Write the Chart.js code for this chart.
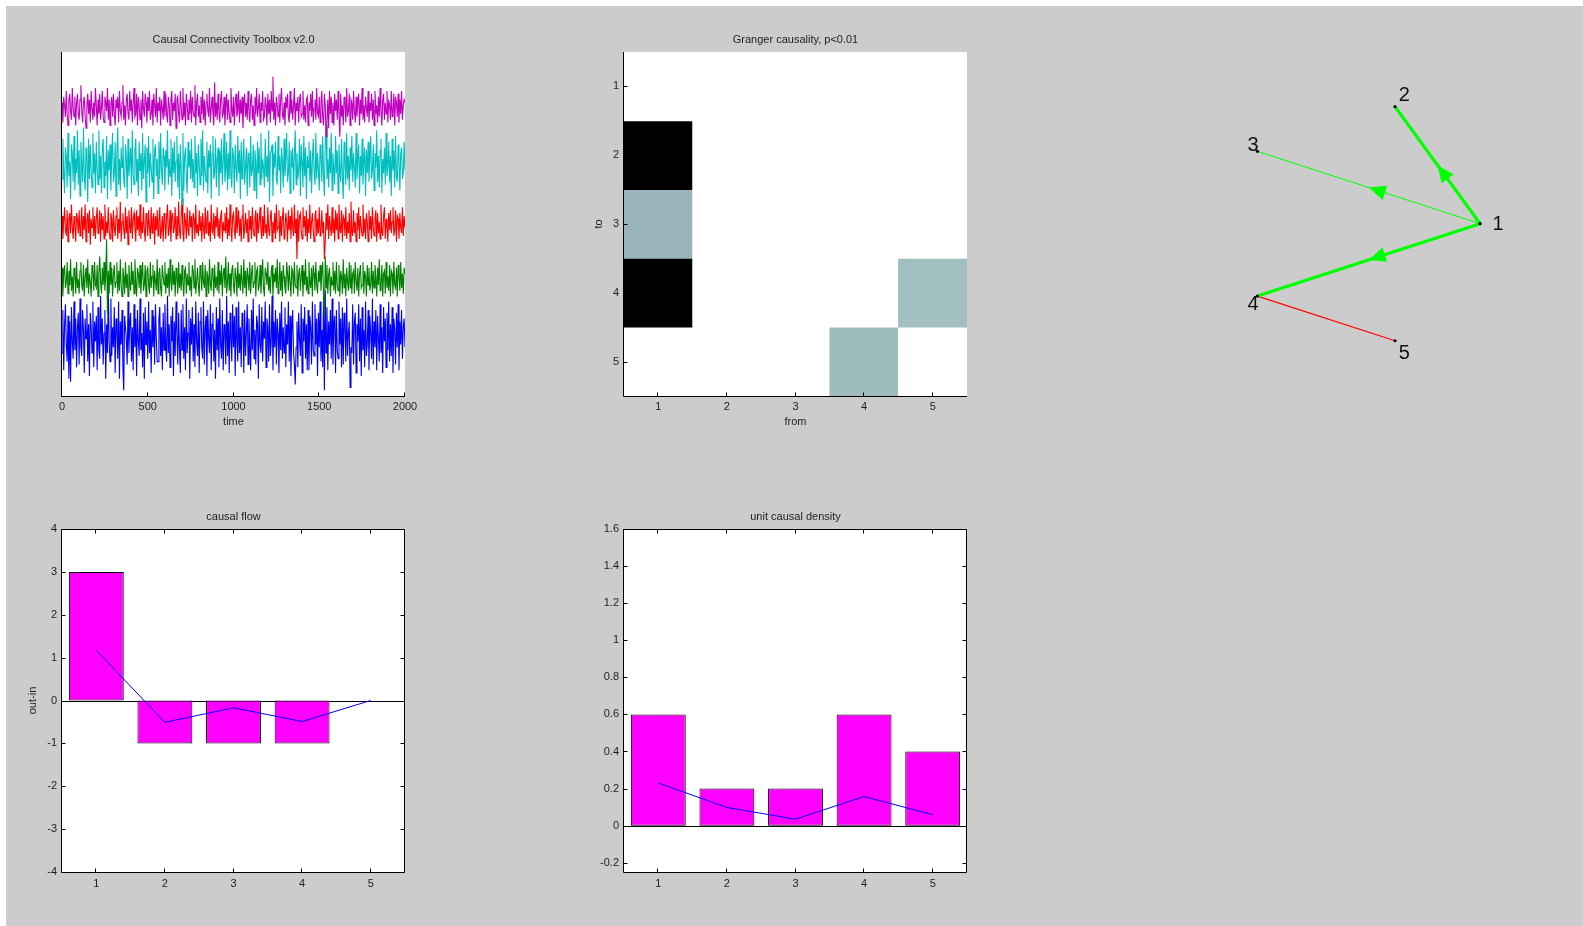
<!DOCTYPE html>
<html>
<head>
<meta charset="utf-8">
<title>Causal Connectivity Toolbox v2.0</title>
<script src="https://cdn.jsdelivr.net/npm/chart.js@4.4.1/dist/chart.umd.min.js"></script>
<style>
  html, body { margin: 0; padding: 0; background: #ffffff; width: 1583px; height: 926px; overflow: hidden; }
  #figure { position: absolute; left: 6px; top: 6px; width: 1577px; height: 920px; background: #cccccc; }
  canvas { position: absolute; }
</style>
</head>
<body>
<div id="figure"></div>
<canvas id="cTraces" width="440" height="430" style="left:0px;top:20px"></canvas>
<canvas id="cGranger" width="430" height="430" style="left:560px;top:20px"></canvas>
<canvas id="cNetwork" width="360" height="350" style="left:1180px;top:50px"></canvas>
<canvas id="cFlow" width="440" height="420" style="left:0px;top:490px"></canvas>
<canvas id="cDensity" width="430" height="420" style="left:560px;top:490px"></canvas>
<script>
// ---------------- data ----------------
// time series: one sample every 5 time steps, deviations around each trace's offset
const sampleStep = 5;
const timeTicks = [0, 500, 1000, 1500, 2000];
const traceOffsets = [21, 40.7, 59.8, 80.7, 100.4];   // blue, green, red, cyan, magenta
const traceBlue = [
  -6,9,-12,4,11,-3,-9,7,-15,5,-16,10,-2,-8,12,-5,6,-11,3,8,
  -10,13,-4,-7,9,2,-13,6,-1,11,-9,4,-14,8,3,-6,12,-11,5,-2,
  7,-12,10,-5,-8,14,-3,6,-10,1,9,-15,4,-6,16,-2,-9,13,-7,3,
  -4,10,-13,6,2,-8,12,-15,5,-3,9,-11,-19,7,3,-1,-10,12,-6,4,
  8,-9,3,-12,11,-4,6,-14,9,-2,-7,13,-5,1,-11,8,-15,10,-3,5,
  -8,12,-6,2,-13,9,-4,7,-10,11,-1,-9,-9,6,10,-7,3,-12,8,-5,
  11,-3,-9,14,-6,4,-11,7,-2,10,-14,5,-7,12,1,-10,8,-4,-13,9,
  -5,11,-8,3,-12,13,-6,1,9,-15,6,-3,10,-9,4,-11,12,-2,-7,8,
  -13,5,10,-4,-8,12,-10,3,7,-14,9,-1,-6,11,-12,4,8,-9,2,-15,
  10,-5,6,-11,13,-3,-8,9,-12,4,2,-10,14,-7,5,-13,8,-1,-9,11,
  -4,7,-14,10,-2,-9,12,-6,3,-11,8,5,-13,9,-7,1,11,-10,6,-3,
  -12,9,-5,13,-8,2,-10,7,4,-15,11,-3,-6,10,-9,5,-1,12,-11,6,
  3,-9,11,-7,-2,14,-12,5,-4,9,-10,6,1,-13,8,-5,12,-8,3,-6,
  10,-11,4,-3,12,-9,7,-14,2,9,-6,-10,-17,-4,5,-11,8,-1,-7,11,
  -13,6,-2,10,-8,4,-12,9,-12,7,3,-10,12,-5,-7,11,-3,6,-14,8,
  -4,12,-9,2,-11,14,-19,16,-6,10,-12,5,-3,9,-8,13,-10,4,7,-13,
  9,-5,-8,12,-3,6,-11,10,-10,8,3,-9,13,-7,1,5,-18,-4,-6,11,
  -10,5,8,-13,4,-2,11,-9,6,-14,10,-5,2,-11,12,-7,-3,9,-12,7,
  1,-8,13,-10,5,-4,9,-12,7,-1,-9,11,-6,3,-13,10,-2,6,-11,8,
  -5,12,-9,4,-7,10,-13,6,2,-10,8,-4,11,-12,5,-3,9,-8,3,6,
  -4];
const traceGreen = [
  4,-6,2,5,-3,-1,6,-5,3,-2,7,-4,1,-6,4,2,-5,6,-3,0,
  -5,3,6,-2,-4,5,-6,1,4,-3,7,-5,2,-1,-6,5,3,-4,6,-2,
  -3,5,-6,2,8,-1,-5,4,-2,6,-4,1,14,-12,3,-5,6,-2,4,-6,
  2,5,-3,-1,6,-5,3,-4,7,-2,-6,4,1,-5,6,-3,2,-6,5,-1,
  -4,6,-2,3,-5,7,-1,-6,4,2,-3,5,-5,1,6,-4,-2,5,-6,3,
  4,-2,-5,6,-3,1,5,-6,3,-1,-4,7,-5,2,4,-3,-6,5,1,-2,
  6,-5,2,-3,4,-6,7,-1,-4,5,-2,3,-6,4,1,-5,6,-3,2,-4,
  5,-1,-6,3,4,-5,2,-2,6,-4,1,-6,5,3,-3,7,-5,-1,4,-2,
  -6,5,2,-4,6,-1,-3,5,-6,3,1,-5,7,-2,-4,4,2,-6,5,-3,
  1,-4,6,-5,3,-2,5,-6,2,4,-3,8,-5,-1,6,-4,2,-6,3,5,
  -2,-5,4,1,-6,6,-3,2,-4,5,-1,-5,7,-3,3,-6,4,1,-4,6,
  -5,2,5,-3,-1,6,-6,3,4,-4,-2,5,-5,1,7,-3,-6,4,2,-2,
  6,-4,1,-5,3,5,-6,2,-1,4,-3,7,-5,-2,6,-4,3,-6,5,1,
  -3,-5,6,2,-4,5,-1,-6,4,3,-5,6,-2,-3,5,-6,2,4,-4,1,
  5,-6,3,-2,7,-4,1,-5,6,-1,-3,4,-6,5,2,-4,6,-2,-5,3,
  -1,5,-4,3,6,-6,-13,8,-3,5,-5,2,4,-6,1,-2,6,-4,3,-5,
  6,-2,-4,5,-6,3,1,-5,7,-3,2,-6,4,-1,-4,6,-3,5,-5,2,
  3,-5,6,-1,-4,4,-6,2,5,-3,-2,6,-5,3,1,-6,5,-2,4,-4,
  -2,6,-5,3,-3,5,1,-6,4,-2,7,-4,-1,5,-6,2,3,-5,6,-3,
  1,-4,5,-6,3,2,-5,6,-2,-3,4,-6,5,1,-4,6,-3,2,-5,4,
  2];
const traceRed = [
  3,-5,1,6,-2,-4,5,-6,2,4,-3,7,-1,-5,3,0,-6,4,2,-3,
  5,-4,-1,6,-5,3,-2,7,-6,1,4,-3,5,-7,2,-1,6,-4,3,-5,
  2,6,-3,-1,5,-6,4,-2,3,-5,7,-4,1,-3,6,-2,-5,4,2,-6,
  5,-1,-4,3,6,-5,2,-3,8,-6,1,4,-2,-5,6,-3,3,-7,5,0,
  -3,6,-5,2,4,-1,-6,5,-2,3,-4,7,-5,1,-3,6,-2,-6,4,2,
  -4,5,-1,-5,6,-3,2,4,-7,3,-2,5,-4,1,6,-5,-2,3,-6,4,
  1,-5,3,7,-4,-2,5,-6,2,4,-3,-1,6,-5,3,-4,8,-2,-5,3,
  9,-3,-6,4,1,-5,6,-2,-4,5,-1,3,-6,4,2,-5,7,-3,0,-4,
  5,-2,3,-6,4,-1,-5,6,-3,2,5,-4,1,-6,7,-2,-3,4,-5,3,
  -1,6,-4,2,-5,3,5,-6,1,-2,4,-3,6,-5,2,-4,7,-1,-6,3,
  4,-2,-5,6,-3,1,5,-4,2,-6,3,7,-5,-1,4,-3,2,-6,5,-2,
  3,-5,6,-1,-4,2,5,-6,4,-3,1,6,-2,-5,3,-4,7,-3,0,-5,
  6,-2,-4,3,5,-6,1,-3,4,-5,7,-2,-1,5,-6,3,-4,2,6,-5,
  -3,4,1,-6,5,-2,3,-5,6,-1,-4,7,-3,2,-12,5,-6,3,4,-2,
  -5,6,-1,3,-4,5,-6,2,-3,7,-5,1,4,-2,-6,3,5,-4,2,-3,
  6,-4,-2,5,-3,1,-12,-6,4,-2,7,-5,3,-1,-4,6,-3,2,-6,5,
  -2,4,-5,7,-1,-3,5,-6,3,2,-4,6,-5,1,-3,4,-6,8,-2,-4,
  5,-3,1,-6,4,-2,6,-5,3,-1,-4,7,-3,2,-5,4,1,-6,5,-2,
  3,-5,6,-1,-4,2,5,-6,4,-3,1,-5,7,-2,-4,3,6,-5,2,-1,
  -6,4,-2,5,-3,1,6,-4,-2,5,-6,3,2,-5,4,-1,-3,6,-4,3,
  -1];
const traceCyan = [
  -5,9,-2,-10,6,3,-8,11,-4,1,-12,7,4,-6,10,-9,2,-3,12,-7,
  5,-11,8,0,-6,13,-4,-9,6,2,-13,9,-5,7,-2,-8,11,-3,4,-10,
  8,-1,-7,12,-5,3,-10,6,9,-8,1,-4,10,-12,5,-2,7,-9,3,11,
  -6,-3,8,-11,4,13,-7,2,-9,6,-1,10,-5,-8,7,3,-12,9,-4,1,
  6,-10,12,-3,-7,5,9,-6,2,-11,8,-2,4,-9,11,-5,1,7,-13,6,
  -3,10,-8,4,-1,-6,9,-12,5,7,-4,2,-10,8,-5,11,-2,-7,6,3,
  -9,5,-1,12,-7,2,-4,9,-11,6,-3,8,-6,1,10,-8,4,-12,7,-2,
  -14,11,-9,3,6,-4,-10,8,-1,5,-5,9,-6,2,-8,10,-3,4,-11,7,
  1,-7,9,-4,12,-9,3,-2,-6,8,-10,5,-1,7,-12,4,10,-5,-3,9,
  -8,2,6,-11,5,-3,9,-7,1,11,-6,-2,8,-9,4,-5,12,-4,-8,6,
  3,-10,7,-1,-6,10,-3,5,-12,8,-5,2,9,-7,-1,6,-11,4,3,-8,
  10,-4,-2,7,-9,5,1,-12,8,-3,6,-7,11,-5,2,-1,-8,9,-4,3,
  -6,12,-13,4,5,7,-11,4,-1,8,-5,-7,10,-2,3,-10,6,1,-8,9,
  -4,2,11,-6,-3,8,-10,5,-1,6,-9,3,12,-7,4,-5,-2,9,-11,7,
  1,-8,10,-4,6,-12,3,-1,8,-6,5,-10,2,9,-3,-7,11,-5,4,-2,
  -9,7,3,-6,10,-4,-11,8,14,-5,2,-8,6,-3,11,-9,4,-1,-7,10,
  -3,5,-10,7,-2,-6,9,-4,-12,8,1,-7,11,-5,3,-9,6,-2,10,-6,
  4,-1,-8,11,-5,2,7,-10,3,-4,9,-7,1,6,-11,5,-3,8,-6,2,
  10,-5,-2,7,-9,4,-1,12,-6,3,-8,5,9,-10,2,-3,6,-7,11,-4,
  -1,8,-6,3,-11,9,-2,5,-8,10,-4,-6,7,1,-9,4,6,-5,-3,8,
  -2];
const traceMagenta = [
  2,-5,4,1,-3,6,-2,-6,3,5,-1,-4,7,0,-3,4,-6,2,5,-2,
  -4,3,8,-1,-5,2,4,-3,-7,1,5,-2,3,-5,6,0,-4,2,-3,7,
  1,-6,3,-2,5,-4,0,6,-3,-5,4,2,-1,7,-4,3,-6,1,4,-3,
  5,-2,-6,3,0,4,-5,6,-1,-3,2,8,-4,1,-6,3,5,-2,-4,6,
  -1,3,-5,2,7,-3,-2,5,-6,4,1,-4,3,-7,6,0,-3,5,2,-5,
  4,-1,6,-4,-2,3,-6,5,1,-3,7,-5,2,-1,4,-6,3,0,-4,6,
  -3,5,-2,-5,4,1,-6,3,6,-4,2,-1,5,-7,3,4,-2,-5,6,0,
  -4,7,-3,2,-6,5,1,-4,3,-2,6,-5,4,-1,-3,8,-6,2,5,-3,
  1,-5,4,-2,6,-4,3,-6,2,5,-1,-3,7,-5,0,4,-2,-6,9,-3,
  2,-4,5,-1,-5,3,6,-3,-2,4,-6,1,5,-4,3,-2,-5,7,0,-3,
  4,-6,2,5,-3,-1,6,-5,3,-2,4,-7,1,5,-3,2,-4,6,-1,-5,
  3,5,-4,1,-6,4,-2,7,-3,0,5,-5,2,-1,6,-4,-3,4,1,-6,
  5,-2,3,-5,6,-1,11,-4,2,-6,4,1,-3,5,-5,3,7,-2,-4,2,
  -6,4,0,5,-3,-5,6,-2,3,-4,1,7,-6,2,-1,4,-5,3,5,-3,
  -2,6,-4,1,-5,3,4,-6,2,-1,5,-3,6,-5,0,3,-4,7,-2,-3,
  4,-5,2,6,-3,-6,5,1,-10,-4,3,-7,6,-2,4,-5,2,-6,5,-1,
  3,-4,6,-2,-10,5,-3,1,-6,4,2,-5,7,-3,-1,5,-6,3,2,-4,
  6,-1,-5,4,-3,2,5,-6,3,-2,7,-4,1,-5,4,0,-3,6,-5,2,
  -1,5,-4,3,-6,6,-2,1,-5,4,-3,7,-1,-6,3,5,-4,2,-2,6,
  -5,3,1,-4,6,-3,-1,5,-6,4,2,-3,5,-5,3,-2,6,-4,1,3,
  2];

// Granger causality matrix: rows = "to" unit, columns = "from" unit (0 = none, 1 = strongest)
const units = ['1', '2', '3', '4', '5'];
const unitTicks = [1, 2, 3, 4, 5];
const gcTo1 = [0, 0, 0, 0, 0];
const gcTo2 = [1, 0, 0, 0, 0];
const gcTo3 = [0.31, 0, 0, 0, 0];
const gcTo4 = [1, 0, 0, 0, 0.28];
const gcTo5 = [0, 0, 0, 0.29, 0];

// network graph: nodes on the unit circle, directed significant interactions
const nodeX = [1, 0.309, -0.809, -0.809, 0.309];
const nodeY = [0, 0.951, 0.588, -0.588, -0.951];
const edgeFrom = [1, 1, 1, 4];
const edgeTo   = [2, 3, 4, 5];
const edgeKind = ['strong', 'weak', 'strong', 'mutual'];

// causal flow (out - in) and weighted flow
const flowTicks = [-4, -3, -2, -1, 0, 1, 2, 3, 4];
const flowBars = [3, -1, -1, -1, 0];
const flowWeighted = [1.17, -0.51, -0.17, -0.49, 0];

// unit causal density
const densityTicks = [-0.2, 0, 0.2, 0.4, 0.6, 0.8, 1, 1.2, 1.4, 1.6];
const densityBars = [0.6, 0.2, 0.2, 0.6, 0.4];
const densityWeighted = [0.23, 0.098, 0.035, 0.157, 0.059];

// ---------------- common settings ----------------
Chart.defaults.font.family = "'Liberation Sans', Arial, sans-serif";
Chart.defaults.font.size = 11;
Chart.defaults.color = '#1e1e1e';
Chart.defaults.animation = false;
Chart.defaults.responsive = false;
Chart.defaults.maintainAspectRatio = false;
Chart.defaults.devicePixelRatio = 1;
Chart.defaults.plugins.legend.display = false;
Chart.defaults.plugins.tooltip.enabled = false;

const TEXT = '#1e1e1e';
const fixW = w => s => { s.width = w; };
const fixH = h => s => { s.height = h; };
const setTicks = arr => s => { s.ticks = arr.map(v => ({ value: v })); };
const numLabel = v => String(Math.round(v * 100) / 100);
const noGrid = { display: false, drawTicks: false };

function panelTitle(text, padBottom) {
  return { display: true, text, fullSize: false, color: TEXT,
           font: { size: 11, weight: 'normal', lineHeight: 1.2 },
           padding: { top: 0, bottom: padBottom } };
}
function axisTitle(text) {
  return { display: true, text, color: TEXT, padding: 0,
           font: { size: 11, weight: 'normal', lineHeight: 1.2 } };
}

// white axes background
const whiteArea = {
  id: 'whiteArea',
  beforeDraw(chart) {
    const { ctx, chartArea: a } = chart;
    ctx.save();
    ctx.fillStyle = '#ffffff';
    ctx.fillRect(a.left, a.top, a.right - a.left, a.bottom - a.top);
    ctx.restore();
  }
};

// axis lines with inward tick marks
const axesFrame = {
  id: 'axesFrame',
  afterDatasetsDraw(chart, args, o) {
    const { ctx, chartArea: a, scales } = chart;
    const L = a.left - 0.5, R = a.right - 0.5, T = a.top + 0.5, B = a.bottom + 0.5;
    const len = 4;
    ctx.save();
    ctx.strokeStyle = '#000000';
    ctx.lineWidth = 1;
    ctx.beginPath();
    if (o.box) {
      ctx.rect(L, T, R - L, B - T);
    } else {
      ctx.moveTo(L, T - 0.5); ctx.lineTo(L, B); ctx.lineTo(R + 0.5, B);
    }
    if (o.xTicks) {
      const s = scales.x;
      s.ticks.forEach((t, i) => {
        const x = Math.round(s.getPixelForTick(i)) - 0.5;
        ctx.moveTo(x, B); ctx.lineTo(x, B - len);
        if (o.box) { ctx.moveTo(x, T); ctx.lineTo(x, T + len); }
      });
    }
    if (o.yTicks) {
      const s = scales.y;
      s.ticks.forEach((t, i) => {
        const y = Math.round(s.getPixelForTick(i)) + 0.5;
        ctx.moveTo(L, y); ctx.lineTo(L + len, y);
        if (o.box) { ctx.moveTo(R, y); ctx.lineTo(R - len, y); }
      });
    }
    ctx.stroke();
    ctx.restore();
  }
};

// horizontal baseline at zero for bar plots
const zeroLine = {
  id: 'zeroLine',
  beforeDatasetsDraw(chart) {
    const { ctx, chartArea: a, scales } = chart;
    const y = Math.round(scales.y.getPixelForValue(0)) + 0.5;
    ctx.save();
    ctx.strokeStyle = '#000000';
    ctx.lineWidth = 1;
    ctx.beginPath(); ctx.moveTo(a.left, y); ctx.lineTo(a.right, y); ctx.stroke();
    ctx.restore();
  }
};

// ---------------- time series ----------------
const traceSeries = [traceBlue, traceGreen, traceRed, traceCyan, traceMagenta];
const traceColors = ['#0000ff', '#008000', '#ff0000', '#00bfbf', '#bf00bf'];
new Chart(document.getElementById('cTraces'), {
  type: 'line',
  data: {
    datasets: traceSeries.map((vals, k) => ({
      data: vals.map((v, i) => ({ x: i * sampleStep, y: traceOffsets[k] + v })),
      borderColor: traceColors[k],
      borderWidth: 1.1,
      pointRadius: 0,
      tension: 0,
      order: traceSeries.length - 1 - k
    }))
  },
  options: {
    layout: { padding: { left: 62, right: 35, top: 13.2, bottom: 21.1 } },
    scales: {
      x: { type: 'linear', min: 0, max: 2000,
           afterBuildTicks: setTicks(timeTicks), afterFit: fixH(32.9),
           grid: noGrid, border: { display: false },
           ticks: { padding: 4, color: TEXT, callback: v => String(v), maxRotation: 0 },
           title: axisTitle('time') },
      y: { display: false, min: 0, max: 120 }
    },
    plugins: { title: panelTitle('Causal Connectivity Toolbox v2.0', 5.6),
               axesFrame: { box: false, xTicks: true, yTicks: false } }
  },
  plugins: [whiteArea, axesFrame]
});

// ---------------- Granger causality matrix ----------------
function bone(x) {
  const c = v => Math.min(1, Math.max(0, v));
  const hr = c(x / 0.375), hg = c((x - 0.375) / 0.375), hb = c((x - 0.75) / 0.25);
  const r = (7 * x + hb) / 8, g = (7 * x + hg) / 8, b = (7 * x + hr) / 8;
  return `rgb(${Math.round(r * 255)},${Math.round(g * 255)},${Math.round(b * 255)})`;
}
const gcRows = [gcTo1, gcTo2, gcTo3, gcTo4, gcTo5];
new Chart(document.getElementById('cGranger'), {
  type: 'bar',
  data: {
    labels: units,
    datasets: gcRows.map((row, r) => ({
      data: row.map(() => [unitTicks[r] - 0.5, unitTicks[r] + 0.5]),
      backgroundColor: row.map(v => bone(1 - v)),
      borderWidth: 0,
      grouped: false,
      barPercentage: 1,
      categoryPercentage: 1
    }))
  },
  options: {
    layout: { padding: { left: 32.7, right: 23, top: 13.2, bottom: 21.1 } },
    scales: {
      x: { afterFit: fixH(32.9), grid: noGrid, border: { display: false },
           ticks: { padding: 4, color: TEXT, autoSkip: false, maxRotation: 0 },
           title: axisTitle('from') },
      y: { type: 'linear', min: 0.5, max: 5.5, reverse: true,
           afterBuildTicks: setTicks(unitTicks), afterFit: fixW(31.3),
           grid: noGrid, border: { display: false },
           ticks: { padding: 5, color: TEXT, callback: numLabel },
           title: axisTitle('to') }
    },
    plugins: { title: panelTitle('Granger causality, p<0.01', 5.6),
               axesFrame: { box: false, xTicks: true, yTicks: true } }
  },
  plugins: [whiteArea, axesFrame]
});

// ---------------- network graph ----------------
const edgeStyle = {
  strong: { color: '#00ff00', width: 3.2, arrow: true },
  weak:   { color: '#00ff00', width: 1,   arrow: true },
  mutual: { color: '#ff0000', width: 1.2, arrow: false }
};
const networkDecor = {
  id: 'networkDecor',
  afterDatasetsDraw(chart) {
    const { ctx, scales: { x: sx, y: sy } } = chart;
    ctx.save();
    // arrowheads, tip at the middle of each directed edge
    edgeFrom.forEach((f, k) => {
      const st = edgeStyle[edgeKind[k]];
      if (!st.arrow) return;
      const t = edgeTo[k];
      const x1 = sx.getPixelForValue(nodeX[f - 1]), y1 = sy.getPixelForValue(nodeY[f - 1]);
      const x2 = sx.getPixelForValue(nodeX[t - 1]), y2 = sy.getPixelForValue(nodeY[t - 1]);
      const d = Math.hypot(x2 - x1, y2 - y1), ux = (x2 - x1) / d, uy = (y2 - y1) / d;
      const mx = (x1 + x2) / 2, my = (y1 + y2) / 2;
      const L = 17, W = 7.5;
      ctx.fillStyle = st.color;
      ctx.beginPath();
      ctx.moveTo(mx, my);
      ctx.lineTo(mx - ux * L - uy * W, my - uy * L + ux * W);
      ctx.lineTo(mx - ux * L + uy * W, my - uy * L - ux * W);
      ctx.closePath();
      ctx.fill();
    });
    // node labels
    ctx.fillStyle = '#111111';
    ctx.font = "20px 'Liberation Sans', Arial, sans-serif";
    ctx.textAlign = 'left';
    ctx.textBaseline = 'middle';
    units.forEach((lab, i) => {
      ctx.fillText(lab, sx.getPixelForValue(nodeX[i] * 1.1), sy.getPixelForValue(nodeY[i] * 1.1) + 1);
    });
    ctx.restore();
  }
};
new Chart(document.getElementById('cNetwork'), {
  type: 'scatter',
  data: {
    datasets: edgeFrom.map((f, k) => {
      const st = edgeStyle[edgeKind[k]];
      const t = edgeTo[k];
      return {
        data: [{ x: nodeX[f - 1], y: nodeY[f - 1] }, { x: nodeX[t - 1], y: nodeY[t - 1] }],
        showLine: true, borderColor: st.color, borderWidth: st.width,
        pointRadius: 0, clip: false, order: 1
      };
    }).concat([{
      data: nodeX.map((x, i) => ({ x, y: nodeY[i] })),
      pointRadius: 1.6, pointBackgroundColor: '#000000', pointBorderWidth: 0,
      clip: false, order: 0
    }])
  },
  options: {
    layout: { padding: { left: 17, right: 23, top: 13.7, bottom: 16.3 } },
    scales: {
      x: { display: false, min: -1.3, max: 1.3 },
      y: { display: false, min: -1.3, max: 1.3 }
    }
  },
  plugins: [networkDecor]
});

// ---------------- bar panels ----------------
function barPanel(id, title, bars, line, ticks, ymin, ymax, yTitle, pads, yW) {
  return new Chart(document.getElementById(id), {
    type: 'bar',
    data: {
      labels: units,
      datasets: [
        { type: 'line', data: line, borderColor: '#0000ff', borderWidth: 1,
          pointRadius: 0, tension: 0, order: 0 },
        { type: 'bar', data: bars, backgroundColor: '#ff00ff', borderColor: '#000000',
          borderWidth: 1, borderSkipped: false, barPercentage: 0.8,
          categoryPercentage: 1, order: 1 }
      ]
    },
    options: {
      layout: { padding: pads },
      scales: {
        x: { afterFit: fixH(20), grid: noGrid, border: { display: false },
             ticks: { padding: 5, color: TEXT, autoSkip: false, maxRotation: 0 } },
        y: { type: 'linear', min: ymin, max: ymax,
             afterBuildTicks: setTicks(ticks), afterFit: fixW(yW),
             grid: noGrid, border: { display: false },
             ticks: { padding: 5, color: TEXT, callback: numLabel },
             title: yTitle ? axisTitle(yTitle) : { display: false } }
      },
      plugins: { title: panelTitle(title, 5.6),
                 axesFrame: { box: true, xTicks: true, yTicks: true } }
    },
    plugins: [whiteArea, zeroLine, axesFrame]
  });
}

// causal flow
barPanel('cFlow', 'causal flow', flowBars, flowWeighted, flowTicks, -4, 4, 'out-in',
         { left: 26.7, right: 35, top: 20.2, bottom: 18 }, 35.3);

// unit causal density
barPanel('cDensity', 'unit causal density', densityBars, densityWeighted, densityTicks, -0.25, 1.6, null,
         { left: 24, right: 23, top: 20.2, bottom: 18 }, 40);
</script>
</body>
</html>
